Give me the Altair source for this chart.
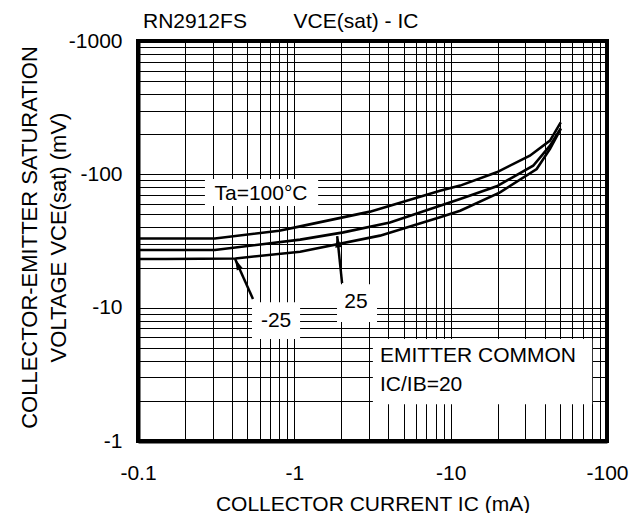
import altair as alt
import pandas as pd

# ---- data (magnitudes; axes are labelled negative) ----
ic_100 = [0.1, 0.31, 0.8, 1.09, 3.05, 8.55, 11.5, 19.7, 32.1, 43.2, 50.6]
v_100 = [33.0, 33.0, 37.8, 40.7, 52.5, 75.3, 82.3, 103.5, 138.0, 179.0, 245.0]

ic_25 = [0.1, 0.31, 1.09, 2.06, 4.09, 8.55, 11.5, 19.7, 33.7, 43.2, 50.6]
v_25 = [27.1, 27.1, 32.4, 36.7, 43.6, 58.2, 65.3, 81.3, 116.0, 164.0, 221.0]

ic_m25 = [0.1, 0.15, 0.42, 1.09, 3.53, 8.55, 11.5, 20.7, 35.5, 43.2, 50.6]
v_m25 = [23.2, 23.2, 23.4, 26.3, 34.7, 47.6, 53.3, 73.3, 109.6, 155.0, 219.0]

x_grid = [0.1, 0.2, 0.3, 0.4, 0.5, 0.6, 0.7, 0.8, 0.9,
          1, 2, 3, 4, 5, 6, 7, 8, 9,
          10, 20, 30, 40, 50, 60, 70, 80, 90, 100]
y_grid = [1, 2, 3, 4, 5, 6, 7, 8, 9,
          10, 20, 30, 40, 50, 60, 70, 80, 90,
          100, 200, 300, 400, 500, 600, 700, 800, 900, 1000]
x_labels = [0.1, 1, 10, 100]
y_labels = [1, 10, 100, 1000]

# annotation labels (data units): text, x, y
label_text = ["Ta=100°C", "-25", "25"]
label_x = [0.612, 0.764, 2.48]
label_y = [71.2, 7.94, 11.0]
# white boxes behind labels (data units)
box_x1 = [0.268, 0.536, 1.875, 3.18]
box_x2 = [1.42, 1.088, 3.38, 80.4]
box_y1 = [57.8, 5.82, 7.8, 1.89]
box_y2 = [92.2, 11.0, 15.0, 5.82]
cond_text = ["EMITTER COMMON", "IC/IB=20"]
cond_x = [3.53, 3.53]
cond_y = [4.33, 2.62]
# arrows: tail -> tip
arr_x1 = [0.544, 2.02]
arr_y1 = [11.6, 15.3]
arr_x2 = [0.418, 1.88]
arr_y2 = [23.2, 34.4]
arr_angle = [336, 354]

FONT = "Liberation Sans"
FS = 21

rows = []
for name, xs, ys in [("100", ic_100, v_100), ("25", ic_25, v_25), ("-25", ic_m25, v_m25)]:
    for a, b in zip(xs, ys):
        rows.append({"series": name, "ic": a, "vce": b})
curves = pd.DataFrame(rows)

xscale = alt.Scale(type="log", domain=[0.1, 100], nice=False)
yscale = alt.Scale(type="log", domain=[1, 1000], nice=False)

x_axis = alt.Axis(
    values=x_grid, grid=True, gridColor="black", gridWidth=1, gridOpacity=1,
    ticks=False, tickSize=0, domain=True, domainColor="black", domainWidth=4,
    labelExpr="indexof([0.1, 1, 10, 100], datum.value) >= 0 ? '-' + datum.label : ''",
    format="~g", labelOverlap=False, labelFlush=False, labelPadding=21,
    labelFont=FONT, labelFontSize=FS, labelColor="black",
    title="COLLECTOR CURRENT IC (mA)", titleFont=FONT, titleFontSize=FS,
    titleFontWeight="normal", titleColor="black", titlePadding=10,
)
y_axis = alt.Axis(
    values=y_grid, grid=True, gridColor="black", gridWidth=1, gridOpacity=1,
    ticks=False, tickSize=0, domain=True, domainColor="black", domainWidth=4,
    labelExpr="indexof([1, 10, 100, 1000], datum.value) >= 0 ? '-' + datum.label : ''",
    format="~g", labelOverlap=False, labelFlush=False, labelPadding=16,
    labelFont=FONT, labelFontSize=FS, labelColor="black",
    title=["COLLECTOR-EMITTER SATURATION", "VOLTAGE VCE(sat) (mV)"],
    titleFont=FONT, titleFontSize=22, titleFontWeight="normal", titleColor="black",
    titleLineHeight=29, titlePadding=-2, titleY=196,
)

lines = alt.Chart(curves).mark_line(color="black", strokeWidth=2.6, clip=True).encode(
    x=alt.X("ic:Q", scale=xscale, axis=x_axis),
    y=alt.Y("vce:Q", scale=yscale, axis=y_axis),
    detail="series:N",
)

boxes_df = pd.DataFrame({"x1": box_x1, "x2": box_x2, "y1": box_y1, "y2": box_y2})
boxes = alt.Chart(boxes_df).mark_rect(color="white").encode(
    x=alt.X("x1:Q", scale=xscale), x2="x2:Q",
    y=alt.Y("y1:Q", scale=yscale), y2="y2:Q",
)

labels_df = pd.DataFrame({"t": label_text, "x": label_x, "y": label_y})
labels = alt.Chart(labels_df).mark_text(
    font=FONT, fontSize=FS, color="black", align="center", baseline="middle"
).encode(x=alt.X("x:Q", scale=xscale), y=alt.Y("y:Q", scale=yscale), text="t:N")

cond_df = pd.DataFrame({"t": cond_text, "x": cond_x, "y": cond_y})
cond = alt.Chart(cond_df).mark_text(
    font=FONT, fontSize=FS, color="black", align="left", baseline="middle"
).encode(x=alt.X("x:Q", scale=xscale), y=alt.Y("y:Q", scale=yscale), text="t:N")

arr_df = pd.DataFrame({"x1": arr_x1, "y1": arr_y1, "x2": arr_x2, "y2": arr_y2, "a": arr_angle})
arrows = alt.Chart(arr_df).mark_rule(color="black", strokeWidth=2.5).encode(
    x=alt.X("x1:Q", scale=xscale), x2="x2:Q",
    y=alt.Y("y1:Q", scale=yscale), y2="y2:Q",
)
heads = alt.Chart(arr_df).mark_point(
    shape="M0,0L0.45,1.6L-0.45,1.6Z", filled=True, color="black", opacity=1, size=200
).encode(
    x=alt.X("x2:Q", scale=xscale), y=alt.Y("y2:Q", scale=yscale),
    angle=alt.Angle("a:Q", scale=None),
)

chart = alt.layer(boxes, lines, arrows, heads, labels, cond).properties(
    width=469, height=400,
    padding={"left": 130, "top": 33, "right": 28, "bottom": 72},
    autosize=alt.AutoSizeParams(type="none"),
    title=alt.TitleParams(
        text="RN2912FS\u00a0\u00a0\u00a0\u00a0\u00a0\u00a0\u00a0\u00a0VCE(sat) - IC",
        anchor="start", frame="group", dx=5, dy=3, offset=1, font=FONT, fontSize=FS,
        fontWeight="normal", color="black",
    ),
).configure_view(stroke="black", strokeWidth=4)

chart.save("out.html", embed_options={"renderer": "svg", "actions": False})
